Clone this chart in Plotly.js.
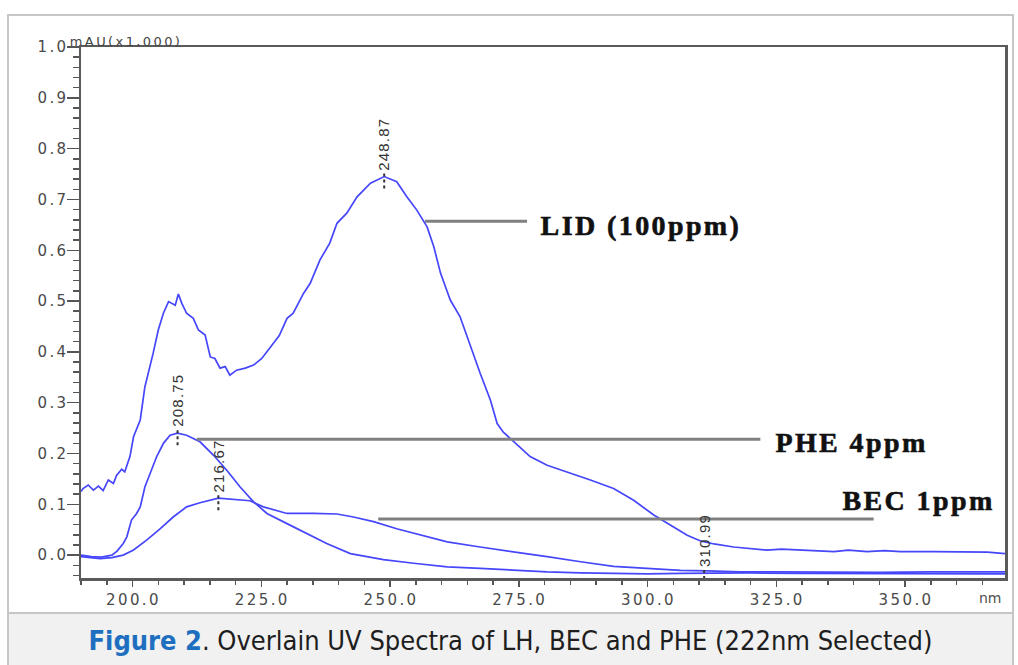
<!DOCTYPE html>
<html>
<head>
<meta charset="utf-8">
<script src="https://cdn.plot.ly/plotly-3.0.1.min.js"></script>
<style>
  html, body { margin:0; padding:0; background:#ffffff; }
  #frame { position:absolute; left:7px; top:14px; width:1003px; height:660px; border:2px solid #c6c6c6; border-bottom:none; }
  #capbg { position:absolute; left:9px; top:612px; width:1003px; height:53px; background:#f1f1f1; border-top:2px solid #c6c6c6; }
  #caption { position:absolute; left:9px; top:614px; width:1003px; height:51px; line-height:53px; text-align:center;
             font-family:'Liberation Sans Narrow','DejaVu Sans Condensed',sans-serif; font-size:27px; color:#1e1e1e; }
  #caption b { color:#1f6fc0; }
  #chart { position:absolute; left:0; top:0; width:1018px; height:612px; }
  .xtick text, .ytick text { letter-spacing:2.4px; }
</style>
</head>
<body>
<div id="frame"></div>
<div id="capbg"></div>
<div id="chart"></div>
<div id="caption"><b>Figure 2</b>. Overlain UV Spectra of LH, BEC and PHE (222nm Selected)</div>
<script>
// ---- data ----
const lidX = [190,190.4,191.4,192.4,193.4,194.3,195.3,196.3,196.9,197.9,198.5,199.5,200.2,201.5,202.4,203.1,204.0,205.0,206.0,207.0,207.6,208.3,208.9,209.6,210.5,211.8,212.8,214.1,215.1,216.0,217.0,218.0,218.9,220.2,221.9,223.5,225.1,227.1,228.5,230.0,231.2,233.2,234.5,236.4,238.3,239.7,241.6,243.6,246.2,248.87,251.3,253.3,255.2,257.2,258.5,259.8,261.7,263.6,265.6,267.5,269.5,270.8,272.0,274.0,277.2,280.5,284.4,288.9,293.4,297.3,301.2,304.4,307.7,310.3,312.9,316.7,320.0,323.2,326.0,329.7,333.0,336.2,339.0,342.6,346.0,349.1,355.6,362.1,366.0,369.4];
const lidY = [0.125,0.131,0.138,0.128,0.136,0.127,0.148,0.141,0.157,0.169,0.164,0.194,0.233,0.266,0.331,0.358,0.397,0.443,0.476,0.499,0.495,0.492,0.514,0.495,0.476,0.466,0.443,0.433,0.390,0.387,0.368,0.371,0.354,0.364,0.368,0.374,0.387,0.413,0.432,0.466,0.476,0.515,0.535,0.581,0.614,0.653,0.673,0.705,0.732,0.745,0.735,0.705,0.679,0.646,0.607,0.555,0.502,0.469,0.410,0.358,0.305,0.259,0.242,0.224,0.194,0.177,0.164,0.148,0.131,0.108,0.079,0.059,0.039,0.028,0.022,0.016,0.013,0.010,0.012,0.010,0.009,0.007,0.010,0.007,0.009,0.007,0.007,0.007,0.006,0.003];

const pheX = [190,192,194,196,197,198.2,198.9,199.8,200.8,201.5,202.4,203.4,204.7,206.0,207.3,208.75,210.5,213.1,215.7,218.3,220.9,223.5,226.1,230,233.8,237.7,242.3,245.5,248.7,254.6,261.1,267.5,274,280.5,287,293.4,300,306.4,312,320,330,340,350,360,369.4];
const pheY = [0.000,-0.003,-0.004,0.000,0.008,0.023,0.036,0.069,0.082,0.095,0.134,0.161,0.194,0.220,0.236,0.240,0.236,0.223,0.197,0.167,0.134,0.105,0.082,0.062,0.043,0.023,0.003,-0.003,-0.009,-0.016,-0.023,-0.026,-0.030,-0.033,-0.035,-0.036,-0.037,-0.036,-0.035,-0.035,-0.036,-0.036,-0.036,-0.037,-0.037];

const becX = [190,193.7,196,198.2,200.2,202.8,205.4,207.9,210.5,213.1,216.67,219.6,222.8,225.4,230,235.1,239.7,242.9,246.8,251.3,254.6,261.1,267.5,274,280.5,287,293.4,299.9,306.4,311.6,318,325,335,345,355,369.4];
const becY = [-0.003,-0.007,-0.005,0.000,0.010,0.030,0.052,0.075,0.095,0.103,0.112,0.110,0.107,0.095,0.082,0.082,0.081,0.075,0.066,0.052,0.043,0.026,0.016,0.007,-0.003,-0.013,-0.022,-0.026,-0.030,-0.031,-0.033,-0.033,-0.034,-0.034,-0.033,-0.033];

const peakLabels = ["208.75","216.67","248.87","310.99"];
const peakX = [208.75,216.67,248.87,310.99];
const peakSeries = ["PHE","BEC","LID","PHE"];

const seriesNames = ["LID (100ppm)","PHE 4ppm","BEC 1ppm"];
const xTickVals = [200,225,250,275,300,325,350];
const xTickText = ["200.0","225.0","250.0","275.0","300.0","325.0","350.0"];
const yTickVals = [0.0,0.1,0.2,0.3,0.4,0.5,0.6,0.7,0.8,0.9,1.0];
const yTickText = ["0.0","0.1","0.2","0.3","0.4","0.5","0.6","0.7","0.8","0.9","1.0"];

// ---- helpers ----
const seriesData = {LID:[lidX,lidY], PHE:[pheX,pheY], BEC:[becX,becY]};
function interp(xs, ys, x){
  for (let i=0;i<xs.length-1;i++){
    if (x>=xs[i] && x<=xs[i+1]) { const t=(x-xs[i])/(xs[i+1]-xs[i]); return ys[i]+t*(ys[i+1]-ys[i]); }
  }
  return ys[ys.length-1];
}

const lineStyle = {color:'rgb(70,70,250)', width:1.7};
const traces = [
  {x:lidX, y:lidY, name:seriesNames[0], mode:'lines', line:lineStyle},
  {x:pheX, y:pheY, name:seriesNames[1], mode:'lines', line:lineStyle},
  {x:becX, y:becY, name:seriesNames[2], mode:'lines', line:lineStyle}
];

const tickFont = {family:'DejaVu Sans, sans-serif', size:15, color:'#4a4a4a'};
const labelFont = {family:'Liberation Serif, Times New Roman, serif', size:28, color:'#111111', weight:700};
const LS_LABEL = 2.4;   // letter spacing for the big series labels
const LS_UNIT = 2.4;
const LS_PEAK = 1.2;

const annotations = [];
const shapes = [];

// peak labels (vertical text with dotted marker)
peakX.forEach((px,i)=>{
  const [xs,ys] = seriesData[peakSeries[i]];
  const py = (i===3) ? -0.035 : interp(xs,ys,px);
  annotations.push({x:px, y:py, xref:'x', yref:'y', text:peakLabels[i], showarrow:false,
    textangle:-90, xanchor:'center', yanchor:'bottom', yshift:4+LS_PEAK*peakLabels[i].length/2,
    font:{family:'Liberation Sans, Arial, sans-serif', size:15, color:'#333333'}});
  shapes.push({type:'line', xref:'x', yref:'y', x0:px, x1:px, ysizemode:'pixel', yanchor:py, y0:3, y1:-13,
    line:{color:'#333333', width:2, dash:'dot'}});
});

// leader lines and series labels
const leaders = [
  {x0:256.8, x1:276.6, y:0.657, lx:278.8, ly:0.648, name:seriesNames[0]},
  {x0:212.5, x1:321.9, y:0.228, lx:324.4, ly:0.222, name:seriesNames[1]},
  {x0:247.7, x1:343.9, y:0.071, lx:337.5, ly:0.108, name:seriesNames[2]}
];
leaders.forEach(l=>{
  shapes.push({type:'line', xref:'x', yref:'y', x0:l.x0, x1:l.x1, y0:l.y, y1:l.y, line:{color:'#808080', width:3}});
  annotations.push({x:l.lx, y:l.ly, xref:'x', yref:'y', text:l.name, showarrow:false,
    xanchor:'left', yanchor:'middle', xshift:LS_LABEL*l.name.length/2, font:labelFont});
});

// axis unit labels
const unitText = 'mAU(x1,000)';
annotations.push({x:0, y:1, xref:'paper', yref:'paper', text:unitText, showarrow:false,
  xanchor:'left', yanchor:'bottom', xshift:-13+LS_UNIT*unitText.length/2, yshift:-4,
  font:{family:'DejaVu Sans, sans-serif', size:13, color:'#444444'}});
annotations.push({x:366.6, y:0, xref:'x', yref:'paper', text:'nm', showarrow:false,
  xanchor:'center', yanchor:'top', yshift:-10,
  font:{family:'DejaVu Sans, sans-serif', size:14, color:'#505050'}});

const layout = {
  width:1018, height:612,
  margin:{l:81, r:13, t:47, b:34},
  paper_bgcolor:'rgba(0,0,0,0)', plot_bgcolor:'#ffffff',
  showlegend:false,
  xaxis:{range:[190,369.4], tickmode:'array', tickvals:xTickVals, ticktext:xTickText,
    ticks:'outside', ticklen:6, tickwidth:1.5, tickcolor:'#555', ticklabelstandoff:0,
    minor:{tickmode:'linear', tick0:190, dtick:5, ticks:'outside', ticklen:4, tickwidth:1.5, tickcolor:'#555'},
    showline:true, mirror:true, linecolor:'#5a5a5a', linewidth:2.5, showgrid:false, zeroline:false,
    tickfont:tickFont},
  yaxis:{range:[-0.045,1.0], tickmode:'array', tickvals:yTickVals, ticktext:yTickText,
    ticks:'outside', ticklen:12, tickwidth:1.5, tickcolor:'#555', ticklabelstandoff:0,
    minor:{tickmode:'linear', tick0:0, dtick:0.02, ticks:'outside', ticklen:6, tickwidth:1.5, tickcolor:'#555'},
    showline:true, mirror:true, linecolor:'#5a5a5a', linewidth:2.5, showgrid:false, zeroline:false,
    tickfont:tickFont},
  annotations:annotations,
  shapes:shapes
};

Plotly.newPlot('chart', traces, layout, {displayModeBar:false, staticPlot:true}).then(()=>{
  document.querySelectorAll('#chart .annotation-text').forEach(t=>{
    if (seriesNames.includes(t.textContent)) {
      t.style.letterSpacing = LS_LABEL + 'px';
      t.style.stroke = '#111111';
      t.style.strokeWidth = '0.6px';
    } else if (t.textContent === unitText) {
      t.style.letterSpacing = LS_UNIT + 'px';
    } else if (peakLabels.includes(t.textContent)) {
      t.style.letterSpacing = LS_PEAK + 'px';
    }
  });
  // compensate trailing letter spacing of right-aligned y tick labels
  document.querySelectorAll('#chart .ytick text').forEach(t=>{ t.setAttribute('dx','5'); });
  document.querySelectorAll('#chart .xtick text').forEach(t=>{ t.setAttribute('dx','1'); });
});
</script>
</body>
</html>
